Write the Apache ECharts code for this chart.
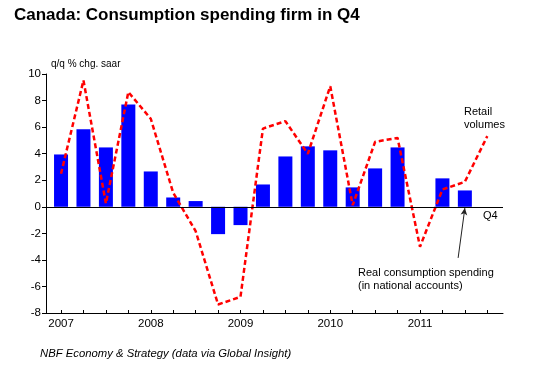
<!DOCTYPE html>
<html>
<head>
<meta charset="utf-8">
<script src="https://cdn.jsdelivr.net/npm/echarts@6/dist/echarts.min.js"></script>
<style>
html,body{margin:0;padding:0;background:#fff;}
#c{width:547px;height:365px;}
</style>
</head>
<body>
<div id="c"></div>
<script>
// Quarterly data, 2007 Q1 .. 2011 Q4
var yearLabels = ['2007', '2008', '2009', '2010', '2011'];
var consumption = [3.94, 5.83, 4.47, 7.71, 2.66, 0.70, 0.43, -2.06, -1.38, 1.68, 3.79, 4.55, 4.25, 1.46, 2.89, 4.47, null, 2.14, 1.23, null];
var retail = [2.49, 9.52, 0.25, 8.64, 6.63, 1.05, -1.83, -7.36, -6.78, 5.89, 6.45, 3.99, 9.08, 0.12, 4.89, 5.19, -3.01, 1.30, 1.88, 5.32];
var yTicks = [-8, -6, -4, -2, 0, 2, 4, 6, 8, 10];

var idx = retail.map(function (_, i) { return i; });
var barData = [];
consumption.forEach(function (v, i) { if (v !== null) barData.push([i, v]); });
var lineData = retail.map(function (v, i) { return [i, v]; });

var FONT = '"Liberation Sans", Arial, sans-serif';
var chart = echarts.init(document.getElementById('c'), null, {renderer: 'canvas'});
chart.setOption({
  animation: false,
  backgroundColor: '#ffffff',
  grid: {left: 46, right: 44, top: 74, bottom: 52, containLabel: false},
  xAxis: {
    type: 'value',
    min: -0.67,
    max: 19.7,
    splitLine: {show: false},
    axisLine: {show: true, onZero: false, lineStyle: {color: '#000', width: 1}},
    axisTick: {show: true, inside: true, length: 3, customValues: idx, lineStyle: {color: '#000'}},
    axisLabel: {
      show: true, customValues: [0, 4, 8, 12, 16], margin: 5,
      fontFamily: FONT, fontSize: 11.5, color: '#000',
      formatter: function (v) { return yearLabels[Math.round(v / 4)]; }
    }
  },
  yAxis: {
    type: 'value',
    min: -8,
    max: 10,
    interval: 2,
    splitLine: {show: false},
    axisLine: {show: true, onZero: false, lineStyle: {color: '#000', width: 1}},
    axisTick: {show: true, inside: false, length: 4, lineStyle: {color: '#000'}},
    axisLabel: {margin: 5, fontFamily: FONT, fontSize: 11.5, color: '#000'}
  },
  series: [
    {
      type: 'bar',
      data: barData,
      barWidth: 14,
      itemStyle: {color: '#0000ff'},
      z: 2,
      markLine: {
        silent: true,
        symbol: ['none', 'none'],
        label: {show: false},
        lineStyle: {color: '#000', width: 1, type: 'solid'},
        data: [{yAxis: 0}]
      }
    },
    {
      type: 'line',
      data: lineData,
      symbol: 'none',
      z: 3,
      lineStyle: {color: '#ff0000', width: 2.5, type: [5, 3]},
      markLine: {
        silent: true,
        symbol: ['none', 'arrow'],
        symbolSize: [5, 7],
        label: {show: false},
        lineStyle: {color: '#222', width: 1, type: 'solid'},
        data: [[{coord: [17.7, -3.85]}, {coord: [18.0, -0.1]}]]
      }
    }
  ],
  graphic: [
    {type: 'text', left: 14, top: 7, style: {text: 'Canada: Consumption spending firm in Q4', font: 'bold 17px ' + FONT, fill: '#000'}},
    {type: 'text', left: 51, top: 59, style: {text: 'q/q % chg. saar', font: '10px ' + FONT, fill: '#000'}},
    {type: 'text', left: 464, top: 105, style: {text: 'Retail\nvolumes', font: '11px ' + FONT, fill: '#000', lineHeight: 13}},
    {type: 'text', left: 483, top: 210, style: {text: 'Q4', font: '11px ' + FONT, fill: '#000'}},
    {type: 'text', left: 358, top: 266, style: {text: 'Real consumption spending\n(in national accounts)', font: '11px ' + FONT, fill: '#000', lineHeight: 13}},
    {type: 'text', left: 40, top: 348, style: {text: 'NBF Economy & Strategy (data via Global Insight)', font: 'italic 11.3px ' + FONT, fill: '#000'}}
  ]
});
</script>
</body>
</html>
